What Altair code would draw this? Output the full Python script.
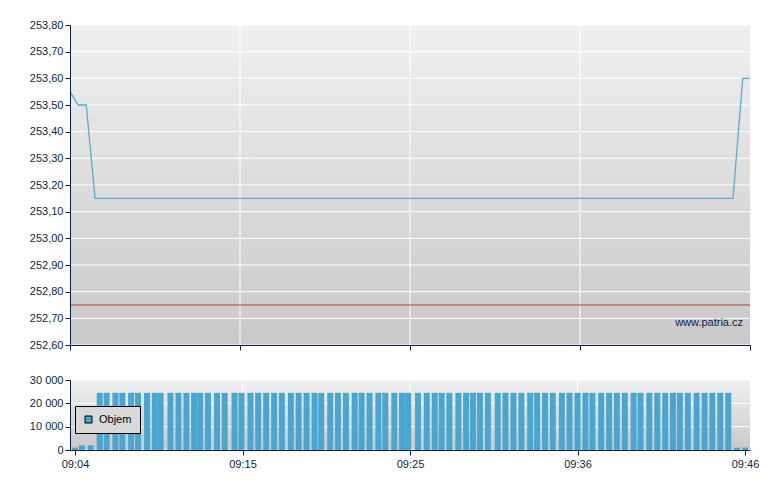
import altair as alt
import pandas as pd

# ---- data ----
price_seconds = [0, 30, 60, 93, 2457, 2493, 2520]
price_values = [253.55, 253.50, 253.50, 253.15, 253.15, 253.60, 253.60]
prev_close = [252.75]

bar_seconds = [0, 26, 59, 93, 119, 152, 178, 211, 237, 271,
               300, 322, 359, 389, 419, 448, 471, 500, 534, 563,
               600, 626, 660, 689, 719, 749, 778, 812, 841, 871,
               901, 926, 960, 989, 1019, 1052, 1078, 1108, 1141, 1167,
               1201, 1230, 1253, 1290, 1323, 1353, 1379, 1408, 1442, 1471,
               1497, 1523, 1553, 1590, 1619, 1649, 1679, 1712, 1738, 1768,
               1797, 1831, 1860, 1890, 1920, 1946, 1979, 2009, 2038, 2068,
               2101, 2127, 2160, 2190, 2220, 2249, 2275, 2305, 2338, 2368,
               2397, 2427, 2457, 2490, 2520]
bar_volumes = [1000, 2000, 2000, 24500, 24500, 24500, 24500, 24500, 24500, 24500,
               24500, 24500, 24500, 24500, 24500, 24500, 24500, 24500, 24500, 24500,
               24500, 24500, 24500, 24500, 24500, 24500, 24500, 24500, 24500, 24500,
               24500, 24500, 24500, 24500, 24500, 24500, 24500, 24500, 24500, 24500,
               24500, 24500, 24500, 24500, 24500, 24500, 24500, 24500, 24500, 24500,
               24500, 24500, 24500, 24500, 24500, 24500, 24500, 24500, 24500, 24500,
               24500, 24500, 24500, 24500, 24500, 24500, 24500, 24500, 24500, 24500,
               24500, 24500, 24500, 24500, 24500, 24500, 24500, 24500, 24500, 24500,
               24500, 24500, 24500, 1000, 1000]

x_tick_seconds = [0, 630, 1260, 1890, 2520]
x_tick_labels = ["09:04", "09:15", "09:25", "09:36", "09:46"]
x_grid_seconds = [630, 1260, 1890]
price_ticks = [252.6, 252.7, 252.8, 252.9, 253.0, 253.1, 253.2, 253.3, 253.4, 253.5, 253.6, 253.7, 253.8]
vol_ticks = [0, 10000, 20000, 30000]
series_name = "Objem"
watermark = "www.patria.cz"

# ---- styling ----
NAVY = "#0b1f4d"
FONT = "Liberation Sans"
W = 680
H_TOP = 320
H_BOT = 70

price_df = pd.DataFrame({"t": price_seconds, "v": price_values})
bar_df = pd.DataFrame({"t": bar_seconds, "v": bar_volumes, "s": [series_name] * len(bar_seconds)})
prev_df = pd.DataFrame({"v": prev_close})
xgrid_df = pd.DataFrame({"t": x_grid_seconds})
pgrid_df = pd.DataFrame({"v": price_ticks})
vgrid_df = pd.DataFrame({"v": vol_ticks})
one_df = pd.DataFrame({"a": [0]})

label_array = "[" + ",".join("'" + s + "'" for s in x_tick_labels) + "]"

x_scale = alt.Scale(domain=[0, 2520], nice=False, zero=False)


def x_axis(labels):
    kw = dict(values=x_tick_seconds, title=None, grid=False, domainColor=NAVY, tickColor=NAVY,
              tickSize=5, domainWidth=1, tickWidth=1, zindex=1, labelColor=NAVY, labelFont=FONT,
              labelFontSize=11, labelPadding=3, labelFlush=False)
    if labels:
        kw["labelExpr"] = label_array + "[round(datum.value / 630)]"
    else:
        kw["labels"] = False
    return alt.Axis(**kw)


def y_axis(values, expr):
    return alt.Axis(values=values, title=None, grid=False, domainColor=NAVY, tickColor=NAVY,
                    tickSize=5, domainWidth=1, tickWidth=1, zindex=1, labelColor=NAVY,
                    labelFont=FONT, labelFontSize=11, labelPadding=2, labelExpr=expr)


gradient_top = {"gradient": "linear", "x1": 0, "y1": 0, "x2": 0, "y2": 1,
                "stops": [{"offset": 0, "color": "#f0f0f0"}, {"offset": 1, "color": "#c8c8c8"}]}

# ---------- top panel ----------
p_scale = alt.Scale(domain=[252.6, 253.8], nice=False, zero=False)
p_expr = "replace(format(datum.value, '.2f'), '.', ',')"
px_top = alt.X("t:Q", scale=x_scale, axis=x_axis(False))
py_top = alt.Y("v:Q", scale=p_scale, axis=y_axis(price_ticks, p_expr))

bg_top = alt.Chart(one_df).mark_rect(fill=gradient_top, strokeWidth=0).encode(
    x=alt.value(0), x2=alt.value("width"), y=alt.value(0), y2=alt.value("height"))
hgrid_top = alt.Chart(pgrid_df).mark_rule(color="white", strokeWidth=1).encode(y=py_top)
vgrid_top = alt.Chart(xgrid_df).mark_rule(color="white", strokeWidth=1).encode(x=px_top)
prev_rule = alt.Chart(prev_df).mark_rule(color="#b83a3a", strokeWidth=1).encode(y=py_top)
price_line = alt.Chart(price_df).mark_line(color="#56acd8", strokeWidth=1.3, clip=True).encode(
    x=px_top, y=py_top)
wm = alt.Chart(one_df).mark_text(text=watermark, align="right", baseline="middle", font=FONT,
                                 fontSize=11, color=NAVY).encode(
    x=alt.value(673), y=alt.value(298))

top = alt.layer(bg_top, hgrid_top, vgrid_top, prev_rule, price_line, wm).properties(
    width=W, height=H_TOP)

# ---------- bottom panel ----------
v_scale = alt.Scale(domain=[0, 30000], nice=False)
v_expr = "replace(format(datum.value, ','), ',', ' ')"
bx = alt.X("t:Q", scale=x_scale, axis=x_axis(True))
by = alt.Y("v:Q", scale=v_scale, axis=y_axis(vol_ticks, v_expr))

bg_bot = alt.Chart(one_df).mark_rect(fill=gradient_top, strokeWidth=0).encode(
    x=alt.value(0), x2=alt.value("width"), y=alt.value(0), y2=alt.value("height"))
hgrid_bot = alt.Chart(vgrid_df).mark_rule(color="white", strokeWidth=1).encode(y=by)
vgrid_bot = alt.Chart(xgrid_df).mark_rule(color="white", strokeWidth=1).encode(x=bx)
bars = alt.Chart(bar_df).mark_bar(size=6, clip=True).encode(
    x=bx, y=by,
    color=alt.Color("s:N", scale=alt.Scale(range=["#48a6d0"]),
                    legend=alt.Legend(orient="none", legendX=5, legendY=381, title=None,
                                      fillColor="#d9d9d9", strokeColor="black", padding=8,
                                      symbolType="square", symbolSize=49,
                                      symbolStrokeColor="black", symbolStrokeWidth=1,
                                      labelFont=FONT, labelFontSize=11, labelColor="black",
                                      labelOffset=5)))

bottom = alt.layer(bg_bot, hgrid_bot, vgrid_bot, bars).properties(width=W, height=H_BOT)

chart = alt.vconcat(top, bottom, spacing=35, bounds="flush").properties(
    padding={"left": 20, "top": 10, "right": 5, "bottom": 5}
).configure_view(stroke="transparent")

chart.save("out.html", embed_options={"renderer": "svg", "actions": False})
